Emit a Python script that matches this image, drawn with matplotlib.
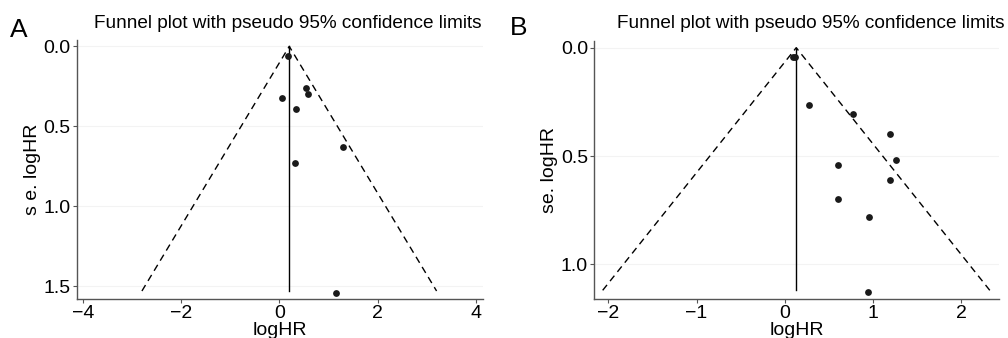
import numpy as np
import matplotlib
matplotlib.use("Agg")
import matplotlib.pyplot as plt

plt.rcParams['font.family'] = ['Liberation Sans', 'DejaVu Sans']

# panel A: log hazard ratios and standard errors
a_loghr = [0.17, 0.55, 0.58, 0.06, 0.34, 1.29, 0.32, 1.16]
a_se = [0.06, 0.26, 0.30, 0.32, 0.39, 0.63, 0.73, 1.54]
a_pooled = 0.20

# panel B
b_loghr = [0.09, 0.12, 0.275, 0.77, 1.19, 1.26, 0.60, 1.19, 0.60, 0.96, 0.94]
b_se = [0.044, 0.044, 0.264, 0.305, 0.40, 0.52, 0.54, 0.61, 0.70, 0.78, 1.13]
b_pooled = 0.13

title = "Funnel plot with pseudo 95% confidence limits"

fig = plt.figure(figsize=(10.08, 3.38), dpi=100)


def funnel(ax, x, se, pooled, ylab, xlim, ylim, xticks, yticks):
    smax = max(se) - 0.01
    ax.plot([pooled - 1.96 * smax, pooled, pooled + 1.96 * smax], [smax, 0, smax],
            color='black', lw=1.0, ls=(0, (5, 3.5)))
    ax.plot([pooled, pooled], [0, smax], color='black', lw=1.0)
    ax.scatter(x, se, s=24, color='#1a1a1a', zorder=3, linewidths=0)
    ax.set_xlim(*xlim)
    ax.set_ylim(*ylim)
    ax.set_xticks(xticks)
    ax.set_yticks(yticks)
    ax.set_xticklabels([('\u2212' + str(abs(t))) if t < 0 else str(t) for t in xticks])
    ax.set_yticklabels(['%.1f' % t for t in yticks])
    for t in yticks:
        ax.axhline(t, color='#f3f3f3', lw=0.8, zorder=0)
    for s in ['top', 'right']:
        ax.spines[s].set_visible(False)
    for s in ['left', 'bottom']:
        ax.spines[s].set_color('#555555')
        ax.spines[s].set_linewidth(1.0)
    ax.tick_params(labelsize=14, length=3, width=0.8, color='#555555', pad=1.5)
    ax.set_ylabel(ylab, fontsize=14, labelpad=2)
    ax.set_xlabel("logHR", fontsize=14, labelpad=-0.5)


axA = fig.add_axes([0.0764, 0.1154, 0.4026, 0.7663])
funnel(axA, a_loghr, a_se, a_pooled, "s e. logHR", (-4.12, 4.14), (1.58, -0.04),
       [-4, -2, 0, 2, 4], [0.0, 0.5, 1.0, 1.5])

axB = fig.add_axes([0.5896, 0.1154, 0.4015, 0.7633])
funnel(axB, b_loghr, b_se, b_pooled, "se. logHR", (-2.16, 2.43), (1.16, -0.031),
       [-2, -1, 0, 1, 2], [0.0, 0.5, 1.0])

fig.text(287.5 / 1008, 1 - 24 / 338, title, ha='center', va='center', fontsize=13.7)
fig.text(811 / 1008, 1 - 24 / 338, title, ha='center', va='center', fontsize=13.7)
fig.text(10 / 1008, 1 - 30 / 338, "A", ha='left', va='center', fontsize=19)
fig.text(510 / 1008, 1 - 28 / 338, "B", ha='left', va='center', fontsize=19)

fig.savefig("out.png", dpi=100)
